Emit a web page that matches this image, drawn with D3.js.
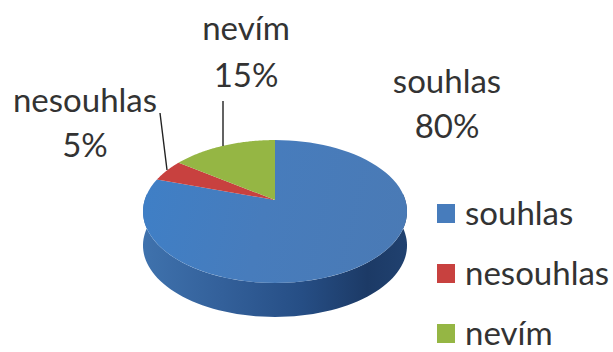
<!DOCTYPE html>
<html>
<head>
<meta charset="utf-8">
<script src="https://cdn.jsdelivr.net/npm/d3@7"></script>
<style>
html,body{margin:0;padding:0;background:#fff;overflow:hidden}
svg{display:block}
text{font-family:Lato,"Open Sans",sans-serif;fill:#333}
</style>
</head>
<body>
<svg id="c" width="613" height="352"></svg>
<script>
const categories = ["souhlas", "nesouhlas", "nevím"];
const values = [80, 5, 15];
const colors = ["#477cbc", "#c8413f", "#95b644"];

const svg = d3.select("#c");
const defs = svg.append("defs");

// Perspective projection of the pie's unit disc onto the page
const cx = 275, apexY = 200, R = 130.3, S = 69.6, k = 0.161, depth = 34;
const project = (a, r = 1) => {
  const u = r * Math.sin(a), v = -r * Math.cos(a), w = 1 / (1 - k * v);
  return [cx + R * u * w, apexY + S * v * w];
};
const line = d3.line();
const arcPts = (a0, a1) => d3.range(0, 81).map(i => project(a0 + (a1 - a0) * i / 80));

const pie = d3.pie().sort(null).value(d => d)(values);

// Side wall gradient
const sideGrad = defs.append("linearGradient").attr("id", "side")
  .attr("gradientUnits", "userSpaceOnUse")
  .attr("x1", 143).attr("x2", 407).attr("y1", 0).attr("y2", 0);
[[0, "#3f72ad"], [0.3, "#33609a"], [0.6, "#264e85"], [0.85, "#1c3a66"], [1, "#20416f"]]
  .forEach(([o, c]) => sideGrad.append("stop").attr("offset", o).attr("stop-color", c));

const topGrad = defs.append("linearGradient").attr("id", "blueTop")
  .attr("gradientUnits", "userSpaceOnUse")
  .attr("x1", 143).attr("x2", 407).attr("y1", 190).attr("y2", 250);
[[0, "#3f7fc6"], [0.45, "#477cbc"], [1, "#4a7ab5"]]
  .forEach(([o, c]) => topGrad.append("stop").attr("offset", o).attr("stop-color", c));

// Side wall: the visible front half of the rim, pushed down by depth
const front = arcPts(Math.PI * 0.47, Math.PI * 1.53);
const wall = front.concat(front.slice().reverse().map(([x, y]) => [x, y + depth]));
svg.append("path").attr("d", line(wall) + "Z").attr("fill", "url(#side)");

// Top face
svg.selectAll("path.slice").data(pie).join("path")
  .attr("class", "slice")
  .attr("d", d => line([[cx, apexY], ...arcPts(d.startAngle, d.endAngle)]) + "Z")
  .attr("fill", (d, i) => i === 0 ? "url(#blueTop)" : colors[i]);

// Leader lines
svg.append("path").attr("d", "M160,113L167,170M223,101L223,146")
  .attr("fill", "none").attr("stroke", "#222").attr("stroke-width", 1.4);

// Data labels
const labelX = [447, 85, 246], labelY = [93, 112, 40], gap = [45, 45, 47];
const fs = 33;
const lab = svg.selectAll("g.lab").data(categories).join("g").attr("class", "lab");
lab.append("text").attr("x", (d, i) => labelX[i]).attr("y", (d, i) => labelY[i])
  .attr("text-anchor", "middle").attr("font-size", fs).text(d => d);
lab.append("text").attr("x", (d, i) => labelX[i]).attr("y", (d, i) => labelY[i] + gap[i])
  .attr("text-anchor", "middle").attr("font-size", fs).text((d, i) => values[i] + "%");

// Legend
const legY = d3.scalePoint().domain(categories).range([225, 345]);
const leg = svg.selectAll("g.leg").data(categories).join("g").attr("class", "leg");
leg.append("rect").attr("x", 437).attr("y", d => legY(d) - 21).attr("width", 18).attr("height", 19)
  .attr("fill", (d, i) => colors[i]);
leg.append("text").attr("x", 465).attr("y", d => legY(d))
  .attr("font-size", fs).text(d => d);
</script>
</body>
</html>
